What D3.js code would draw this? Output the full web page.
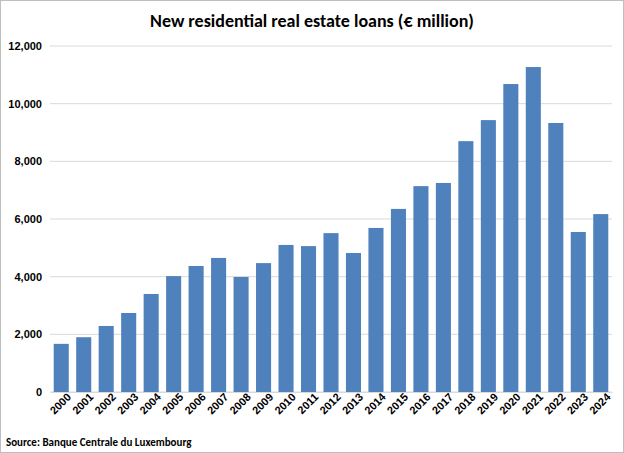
<!DOCTYPE html>
<html><head><meta charset="utf-8">
<script src="https://cdn.jsdelivr.net/npm/d3@7"></script>
<style>body{margin:0;background:#fff}svg{font-family:Calibri,"Liberation Sans",Arial,sans-serif}</style>
</head><body>
<svg id="chart" width="624" height="453"></svg>
<script>
var years = ["2000","2001","2002","2003","2004","2005","2006","2007","2008","2009","2010","2011","2012","2013","2014","2015","2016","2017","2018","2019","2020","2021","2022","2023","2024"];
var loans = [1670,1900,2290,2740,3400,4020,4370,4650,3990,4470,5100,5060,5510,4820,5690,6350,7140,7250,8700,9430,10680,11270,9330,5550,6170];
var yTicks = [0,2000,4000,6000,8000,10000,12000];

var svg = d3.select("#chart");
var margin = {top: 46, right: 12, bottom: 61, left: 50};
var w = 624 - margin.left - margin.right, h = 453 - margin.top - margin.bottom;

svg.append("rect").attr("x",0.5).attr("y",0.5).attr("width",623).attr("height",452)
  .attr("fill","#fff").attr("stroke","#bfbfbf");

var g = svg.append("g").attr("transform","translate("+margin.left+","+margin.top+")");
var x = d3.scaleBand().domain(years).range([0,w]).paddingInner(0.33).paddingOuter(0.165);
var y = d3.scaleLinear().domain([0,12000]).range([h,0]);

g.selectAll(".grid").data(yTicks).enter().append("line")
  .attr("x1",0).attr("x2",w).attr("y1",d=>y(d)).attr("y2",d=>y(d))
  .attr("stroke","#d9d9d9");

g.selectAll(".bar").data(loans).enter().append("rect")
  .attr("x",(d,i)=>x(years[i])).attr("width",x.bandwidth())
  .attr("y",d=>y(d)).attr("height",d=>h-y(d)).attr("fill","#4f81bd");

var ya = g.append("g").call(d3.axisLeft(y).tickValues(yTicks).tickSize(0).tickPadding(8).tickFormat(d3.format(",")));
ya.select(".domain").remove();
ya.selectAll("text").attr("font-size",11).attr("font-weight","bold").attr("fill","#000");

var xa = g.append("g").attr("transform","translate(0,"+h+")").call(d3.axisBottom(x).tickSize(0).tickPadding(6));
xa.select(".domain").attr("stroke","#d9d9d9");
xa.selectAll("text").attr("font-size",11).attr("font-weight","bold").attr("fill","#000")
  .attr("text-anchor","end").attr("dx","0.3em").attr("dy","0.5em").attr("transform","rotate(-45)");

svg.append("text").attr("x",312).attr("y",27).attr("text-anchor","middle")
  .attr("font-size",18).attr("font-weight","bold").text("New residential real estate loans (€ million)");
svg.append("text").attr("x",6).attr("y",446).attr("font-size",11).attr("font-weight","bold")
  .text("Source: Banque Centrale du Luxembourg");
</script>
</body></html>
